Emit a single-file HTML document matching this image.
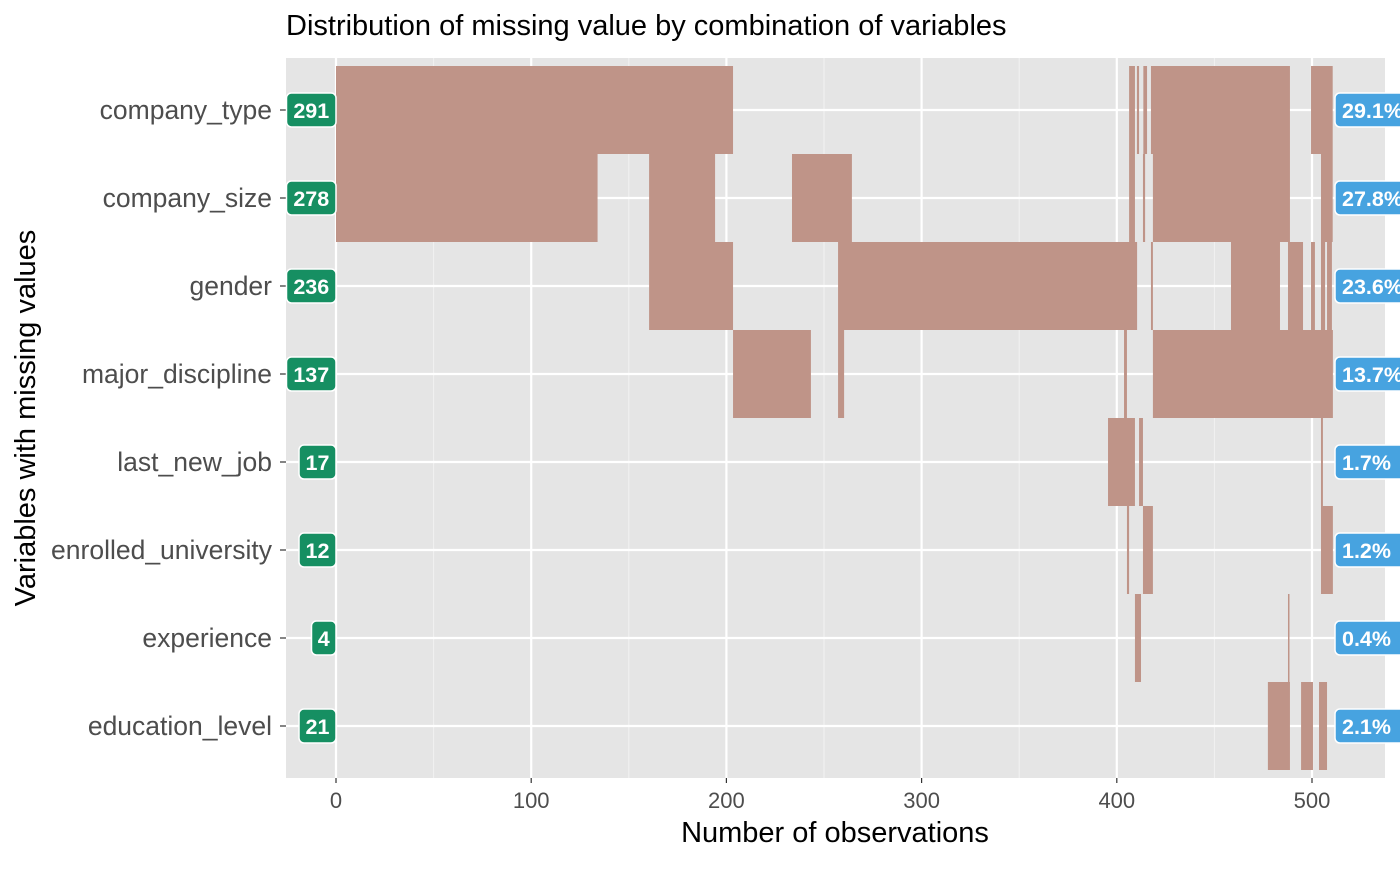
<!DOCTYPE html>
<html><head><meta charset="utf-8"><style>
body{margin:0;background:#fff;font-family:"Liberation Sans",sans-serif;}
</style></head><body>
<svg id="c" width="1400" height="866" xmlns="http://www.w3.org/2000/svg"></svg>
<script>
const variables=["company_type","company_size","gender","major_discipline","last_new_job","enrolled_university","experience","education_level"];
const counts=[291,278,236,137,17,12,4,21];
const pcts=["29.1%","27.8%","23.6%","13.7%","1.7%","1.2%","0.4%","2.1%"];
const xTicks=[0,100,200,300,400,500];
// segments [row, start, end]
const segRow=[0,0,0,0,0,0, 1,1,1,1,1,1,1, 2,2,2,2,2,2,2,2, 3,3,3,3, 4,4,4, 5,5,5, 6,6, 7,7,7];
const segStart=[0,406.3,410.3,413.6,417.5,499.5, 0,160.4,233.6,406.3,413.4,418.5,504.6, 160.4,257.2,417.5,458.5,487.7,499.5,504.6,507.7, 203.4,257.2,403.7,418.5, 395.5,411.4,504.6, 405.2,413.4,504.6, 409.3,487.7, 477.4,494.4,503.6];
const segEnd=[203.4,409.3,411.4,415.5,488.7,510.6, 134,194.2,264.3,409.3,414.5,488.7,510.6, 203.4,410.4,418.5,483.6,495.4,501.5,506.7,510.2, 243.3,260.3,405.2,510.7, 409.3,413.4,505.6, 406.3,418.5,510.7, 412.4,488.2, 488.7,500.5,507.7];

const svg=document.getElementById('c');const NS="http://www.w3.org/2000/svg";
const PL=286,PR=1385,PT=58,PB=778;
const X=v=>336+v*1.952;
const rowTop=i=>66+i*88, rowC=i=>110+i*88;
function el(t,a,txt){const e=document.createElementNS(NS,t);for(const k in a)e.setAttribute(k,a[k]);if(txt!=null)e.textContent=txt;svg.appendChild(e);return e;}
let e=el('rect',{x:PL,y:PT,width:PR-PL,height:PB-PT,fill:'#e5e5e5'});


for(let v=-50;v<=550;v+=100){if(X(v)>PL&&X(v)<PR){e=el('line',{x1:X(v),x2:X(v),y1:PT,y2:PB,stroke:'#f2f2f2','stroke-width':1});

}}
xTicks.forEach(v=>{e=el('line',{x1:X(v),x2:X(v),y1:PT,y2:PB,stroke:'#fff','stroke-width':2.2});


e=el('line',{x1:X(v),x2:X(v),y1:PB,y2:PB+5,stroke:'#333','stroke-width':1.2});


e=el('text',{x:X(v),y:PB+30,'font-size':22,fill:'#4d4d4d','text-anchor':'middle'},String(v));

});
variables.forEach((n,i)=>{e=el('line',{x1:PL,x2:PR,y1:rowC(i),y2:rowC(i),stroke:'#fff','stroke-width':2.2});


e=el('line',{x1:PL-6,x2:PL,y1:rowC(i),y2:rowC(i),stroke:'#333','stroke-width':1.2});


e=el('text',{x:PL-14,y:rowC(i)+9,'font-size':26.5,fill:'#4d4d4d','text-anchor':'end'},n);

});
segRow.forEach((r,k)=>{e=el('rect',{x:X(segStart[k]),y:rowTop(r),width:Math.max(1.5,X(segEnd[k])-X(segStart[k])),height:88,fill:'#bf9488'});

});
variables.forEach((n,i)=>{const s=String(counts[i]);const w=s.length*12.5+12;
e=el('rect',{x:336-w,y:rowC(i)-17,width:w,height:34,rx:5,fill:'#168f62',stroke:'#fff','stroke-width':1.5});


e=el('text',{x:336-w/2,y:rowC(i)+8,'font-size':21.5,'font-weight':'bold',fill:'#fff','text-anchor':'middle'},s);


e=el('rect',{x:1335,y:rowC(i)-17,width:80,height:34,rx:5,fill:'#47a3e0',stroke:'#fff','stroke-width':1.5});


e=el('text',{x:1342,y:rowC(i)+8,'font-size':21.5,'font-weight':'bold',fill:'#fff'},pcts[i]);

});
e=el('text',{x:286,y:35,'font-size':29,fill:'#000'},'Distribution of missing value by combination of variables');


e=el('text',{x:835,y:842,'font-size':29,fill:'#000','text-anchor':'middle'},'Number of observations');


e=el('text',{x:0,y:0,'font-size':29,fill:'#000','text-anchor':'middle',transform:'translate(35,418) rotate(-90)'},'Variables with missing values');


</script>
</body></html>
